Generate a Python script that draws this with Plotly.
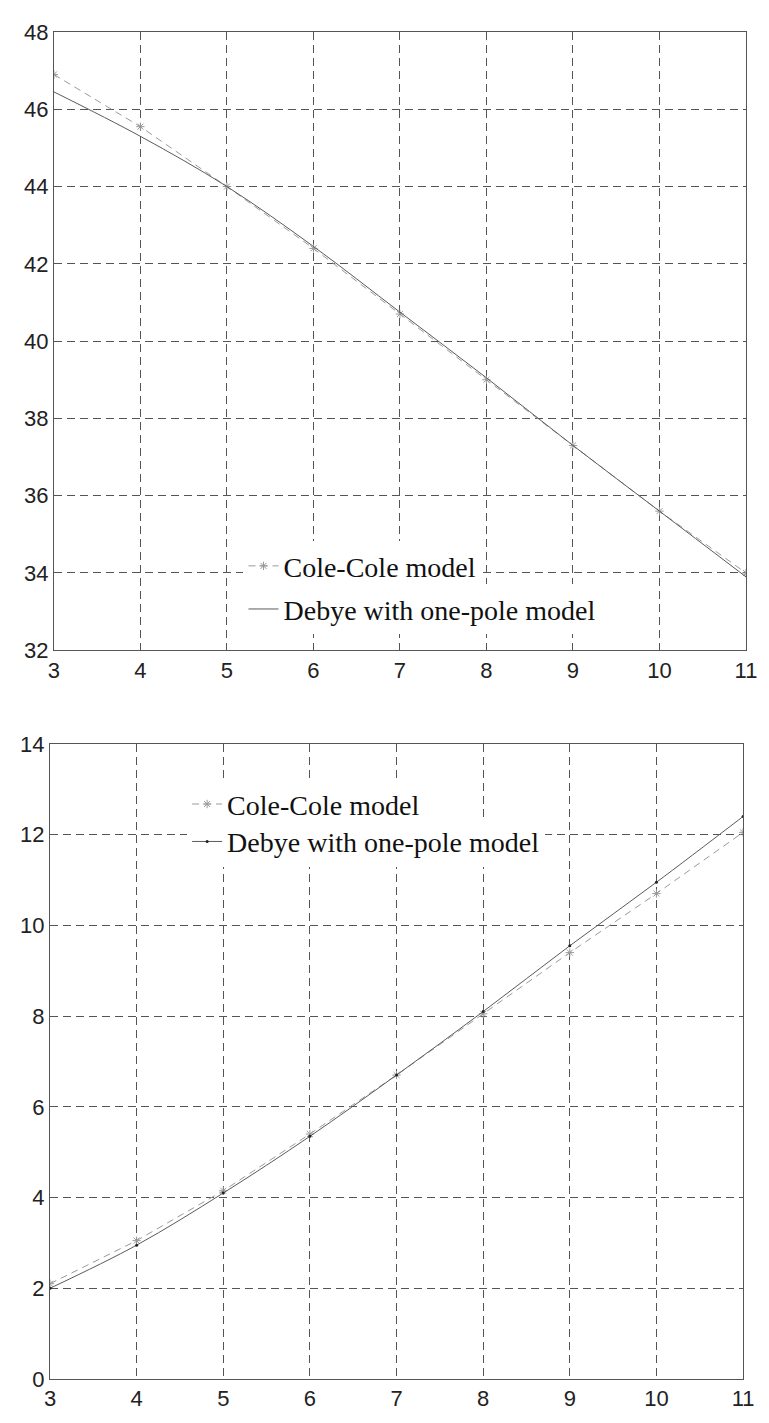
import plotly.graph_objects as go

x_vals = [3, 4, 5, 6, 7, 8, 9, 10, 11]

top_cole = [46.9, 45.55, 44.0, 42.4, 40.7, 39.0, 37.3, 35.6, 34.0]
top_debye = [46.45, 45.3, 44.0, 42.45, 40.75, 39.05, 37.3, 35.6, 33.9]

bot_cole = [2.1, 3.05, 4.15, 5.4, 6.7, 8.05, 9.4, 10.7, 12.05]
bot_debye = [2.0, 2.95, 4.1, 5.35, 6.7, 8.1, 9.55, 10.95, 12.4]

x_ticks = [3, 4, 5, 6, 7, 8, 9, 10, 11]
top_yticks = [32, 34, 36, 38, 40, 42, 44, 46, 48]
bot_yticks = [0, 2, 4, 6, 8, 10, 12, 14]

names = ["Cole-Cole model", "Debye with one-pole model"]

cole_color = "#9a9a9a"
debye_color = "#5a5a5a"

fig = go.Figure()

fig.add_trace(go.Scatter(x=x_vals, y=top_cole, name=names[0], mode="lines+markers",
                         line=dict(color=cole_color, width=1, dash="7px,5px"),
                         marker=dict(symbol="asterisk-open", size=7, color=cole_color, line=dict(color=cole_color, width=1)),
                         xaxis="x", yaxis="y", legend="legend"))
fig.add_trace(go.Scatter(x=x_vals, y=top_debye, name=names[1], mode="lines",
                         line=dict(color=debye_color, width=1, shape="spline"),
                         xaxis="x", yaxis="y", legend="legend2"))

fig.add_trace(go.Scatter(x=x_vals, y=bot_cole, name=names[0], mode="lines+markers",
                         line=dict(color=cole_color, width=1, dash="7px,5px"),
                         marker=dict(symbol="asterisk-open", size=7, color=cole_color, line=dict(color=cole_color, width=1)),
                         xaxis="x2", yaxis="y2", legend="legend3"))
fig.add_trace(go.Scatter(x=x_vals, y=bot_debye, name=names[1], mode="lines+markers",
                         line=dict(color=debye_color, width=1, shape="spline"),
                         marker=dict(symbol="circle", size=3, color="#222"),
                         xaxis="x2", yaxis="y2", legend="legend4"))

axis_common = dict(
    showgrid=True, gridcolor="#555555", gridwidth=1, griddash="8px,5px",
    showline=True, linecolor="#555555", linewidth=1, mirror=True,
    zeroline=False, ticks="", tickfont=dict(family="Liberation Sans, Arial", size=22, color="#222"),
)

leg_font = dict(family="Liberation Serif, Times New Roman", size=28, color="#111")

def leg(x, y):
    return dict(x=x, y=y, xanchor="left", yanchor="top", bgcolor="white",
                borderwidth=0, font=leg_font, tracegroupgap=0)

fig.update_layout(
    width=761, height=1415,
    margin=dict(l=31, r=14, t=14, b=33),
    paper_bgcolor="white", plot_bgcolor="white",
    showlegend=True,
    xaxis=dict(axis_common, range=[3, 11], tickvals=x_ticks, domain=[0.0056, 1], anchor="y"),
    yaxis=dict(axis_common, range=[32, 48], tickvals=top_yticks, domain=[0.541, 1.0], anchor="x",
               ticklabelstandoff=0),
    xaxis2=dict(axis_common, range=[3, 11], tickvals=x_ticks, domain=[0, 0.9958], anchor="y2"),
    yaxis2=dict(axis_common, range=[0, 14], tickvals=bot_yticks, domain=[0, 0.4715], anchor="x2",
                ticklabelstandoff=0),
    legend=leg(0.278, 0.622),
    legend2=leg(0.278, 0.590),
    legend3=leg(0.197, 0.4452),
    legend4=leg(0.197, 0.4174),
)

fig.write_html("out.html")
